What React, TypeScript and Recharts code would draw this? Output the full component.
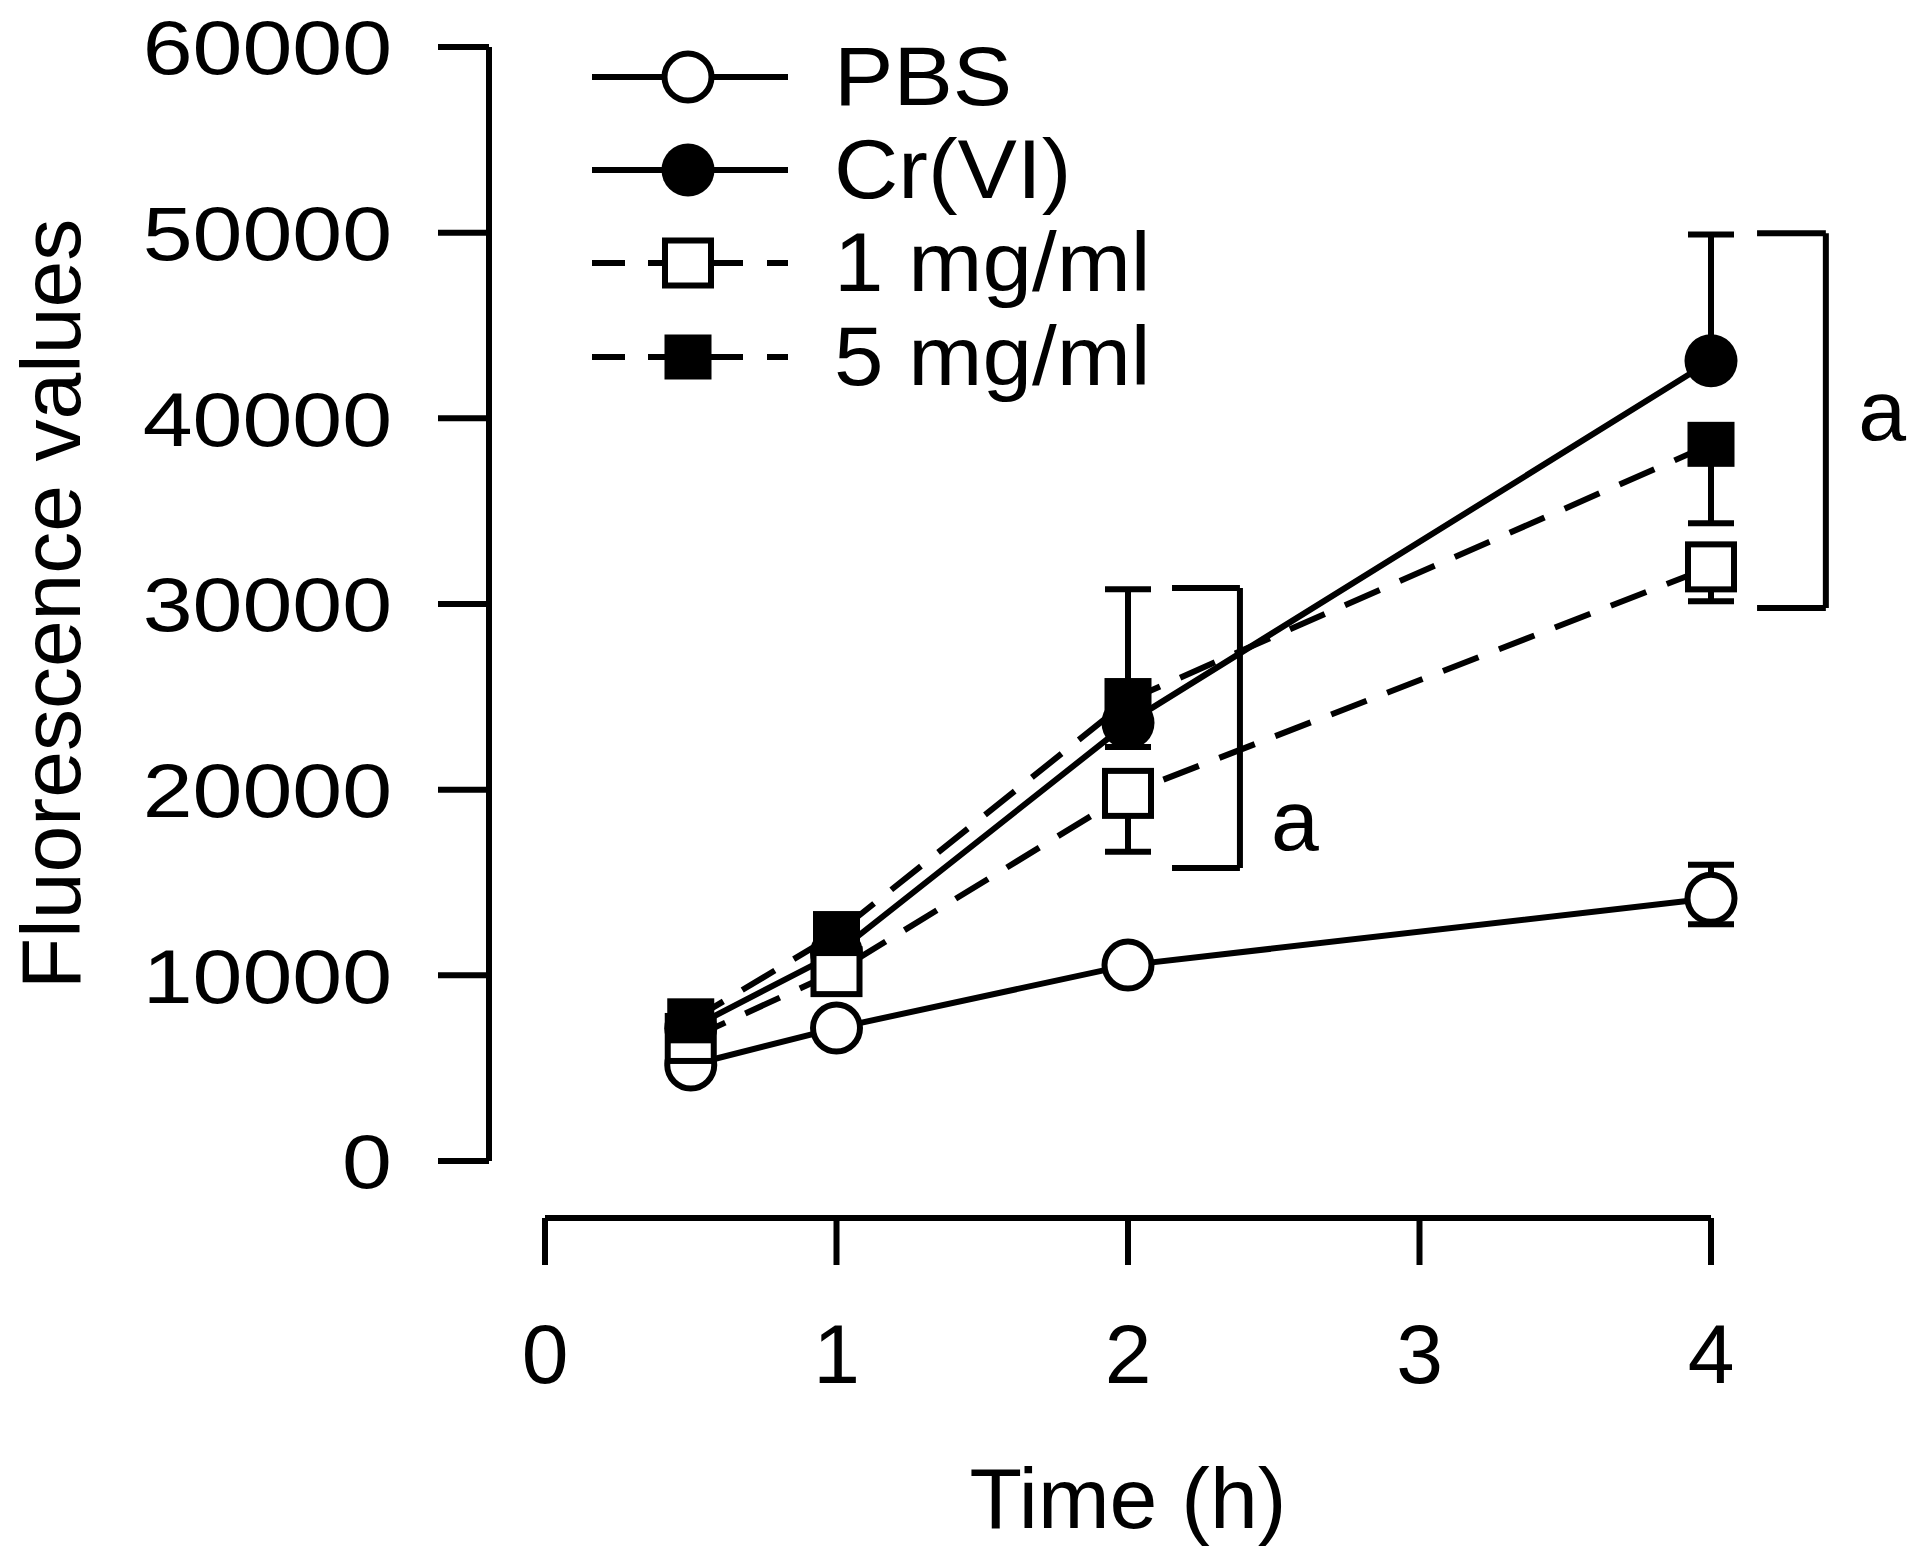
import { LineChart, Line, XAxis, YAxis, ErrorBar, Legend, Label, ReferenceLine, ReferenceDot } from 'recharts'

const FONT = '"Liberation Sans", Arial, Helvetica, sans-serif'

// time points (h)
const times = [0.5, 1, 2, 4]

// mean fluorescence values
const pbs = [5170, 7160, 10550, 14150]
const crVI = [7150, 11200, 23600, 43100]
const mg1 = [6600, 10200, 19800, 32000]
const mg5 = [7550, 12250, 24800, 38600]

// error bars as [below, above]; null = not drawn
const pbsErr = [null, null, null, [1400, 1800]]
const crVIErr = [null, null, [1300, 0], [0, 6800]]
const mg1Err = [null, null, [3150, 0], [1850, 0]]
const mg5Err = [null, null, [0, 6000], [4250, 0]]

const xTicks = [0, 1, 2, 3, 4]
const yTicks = [0, 10000, 20000, 30000, 40000, 50000, 60000]

// significance brackets (data units)
const brackets = [
  { x: 2.384, armX: 2.151, low: 15780, high: 30860, labelX: 2.573, labelY: 18400, text: 'a' },
  { x: 4.394, armX: 4.158, low: 29780, high: 49970, labelX: 4.587, labelY: 40500, text: 'a' },
]

const data = times.map((t, i) => ({
  time: t,
  pbs: pbs[i],
  crVI: crVI[i],
  mg1: mg1[i],
  mg5: mg5[i],
  pbsErr: pbsErr[i],
  crVIErr: crVIErr[i],
  mg1Err: mg1Err[i],
  mg5Err: mg5Err[i],
}))

const SW = 6
const AXW = 6
const DASH = '38 22'

type Marker = 'openCircle' | 'filledCircle' | 'openSquare' | 'filledSquare'

function MarkerShape({ kind, cx, cy }: { kind: Marker; cx: number; cy: number }) {
  if (kind === 'openCircle') return <circle cx={cx} cy={cy} r={23.5} fill="#fff" stroke="#000" strokeWidth={SW} />
  if (kind === 'filledCircle') return <circle cx={cx} cy={cy} r={26.5} fill="#000" />
  if (kind === 'openSquare')
    return <rect x={cx - 23} y={cy - 22.5} width={46} height={45} fill="#fff" stroke="#000" strokeWidth={SW} />
  return <rect x={cx - 23.5} y={cy - 22.5} width={47} height={45} fill="#000" />
}

const dotFor = (kind: Marker) => (props: any) => {
  const { cx, cy, index } = props
  if (cx == null || cy == null) return <g key={`d-${index}`} />
  return (
    <g key={`d-${kind}-${index}`}>
      <MarkerShape kind={kind} cx={cx} cy={cy} />
    </g>
  )
}

const series: { key: string; err: string; name: string; marker: Marker; dashed: boolean }[] = [
  { key: 'pbs', err: 'pbsErr', name: 'PBS', marker: 'openCircle', dashed: false },
  { key: 'crVI', err: 'crVIErr', name: 'Cr(VI)', marker: 'filledCircle', dashed: false },
  { key: 'mg1', err: 'mg1Err', name: '1 mg/ml', marker: 'openSquare', dashed: true },
  { key: 'mg5', err: 'mg5Err', name: '5 mg/ml', marker: 'filledSquare', dashed: true },
]

function YTick({ x, y, payload }: any) {
  return (
    <text
      transform={`translate(${x},${y}) scale(1.18,1)`}
      textAnchor="end"
      dy="0.36em"
      fontSize={76}
      fontFamily={FONT}
      fill="#000"
    >
      {payload.value}
    </text>
  )
}

function XTick({ x, y, payload }: any) {
  return (
    <text x={x} y={y} textAnchor="middle" dy="0.72em" fontSize={84} fontFamily={FONT} fill="#000">
      {payload.value}
    </text>
  )
}

function YTitle({ viewBox }: any) {
  const cx = viewBox.x + 72
  const cy = viewBox.y + viewBox.height / 2
  return (
    <text
      x={cx}
      y={cy}
      transform={`rotate(-90, ${cx}, ${cy})`}
      textAnchor="middle"
      fontSize={84}
      fontFamily={FONT}
      fill="#000"
    >
      Fluorescence values
    </text>
  )
}

function XTitle({ viewBox }: any) {
  return (
    <text
      x={viewBox.x + viewBox.width / 2}
      y={viewBox.y + 310}
      textAnchor="middle"
      fontSize={86}
      fontFamily={FONT}
      fill="#000"
    >
      Time (h)
    </text>
  )
}

function LegendBox() {
  const rows = [49, 142, 235, 329]
  const solid = [[24, 220]]
  const dashed = [[24, 57], [80, 175], [199, 220]]
  return (
    <svg width={760} height={380}>
      {series.map((s, i) => (
        <g key={s.key}>
          {(s.dashed ? dashed : solid).map(([a, b], j) => (
            <line key={j} x1={a} x2={b} y1={rows[i]} y2={rows[i]} stroke="#000" strokeWidth={SW} />
          ))}
          <MarkerShape kind={s.marker} cx={120} cy={rows[i]} />
          <text
            transform={`translate(266,${rows[i] + 28}) scale(1.06,1)`}
            fontSize={84}
            fontFamily={FONT}
            fill="#000"
          >
            {s.name}
          </text>
        </g>
      ))}
    </svg>
  )
}

export default function App() {
  return (
    <div style={{ background: '#fff' }}>
      <LineChart width={1904} height={1546} data={data} margin={{ top: 39, right: 201, bottom: 0, left: 0 }}>
        <XAxis xAxisId={0} type="number" dataKey="time" domain={[0, 4]} height={57} axisLine={false} tickLine={false} tick={false} />
        <XAxis
          xAxisId="shown"
          type="number"
          dataKey="time"
          domain={[0, 4]}
          ticks={xTicks}
          height={336}
          axisLine={{ stroke: '#000', strokeWidth: AXW }}
          tickLine={{ stroke: '#000', strokeWidth: AXW }}
          tickSize={47}
          tickMargin={58}
          tick={<XTick />}
        >
          <Label content={<XTitle />} />
        </XAxis>
        <YAxis yAxisId={0} type="number" dataKey="crVI" domain={[0, 60000]} width={56} axisLine={false} tickLine={false} tick={false} />
        <YAxis
          yAxisId="shown"
          type="number"
          dataKey="crVI"
          domain={[0, 60000]}
          allowDataOverflow
          ticks={yTicks}
          interval={0}
          width={481}
          axisLine={{ stroke: '#000', strokeWidth: AXW }}
          tickLine={{ stroke: '#000', strokeWidth: AXW }}
          tickSize={51}
          tickMargin={46}
          tick={<YTick />}
        >
          <Label content={<YTitle />} />
        </YAxis>
        <Legend
          layout="vertical"
          align="center"
          verticalAlign="middle"
          content={<LegendBox />}
          wrapperStyle={{ left: 560, top: 20, width: 760, height: 380 }}
        />
        {brackets.map((b, i) => (
          <ReferenceLine
            key={`bv-${i}`}
            segment={[{ x: b.x, y: b.low }, { x: b.x, y: b.high }]}
            stroke="#000"
            strokeWidth={SW}
            ifOverflow="visible"
          />
        ))}
        {brackets.map((b, i) => (
          <ReferenceLine
            key={`bt-${i}`}
            segment={[{ x: b.armX, y: b.high }, { x: b.x, y: b.high }]}
            stroke="#000"
            strokeWidth={SW}
            ifOverflow="visible"
          />
        ))}
        {brackets.map((b, i) => (
          <ReferenceLine
            key={`bb-${i}`}
            segment={[{ x: b.armX, y: b.low }, { x: b.x, y: b.low }]}
            stroke="#000"
            strokeWidth={SW}
            ifOverflow="visible"
          />
        ))}
        {brackets.map((b, i) => (
          <ReferenceDot
            key={`bl-${i}`}
            x={b.labelX}
            y={b.labelY}
            r={0}
            fill="none"
            stroke="none"
            ifOverflow="visible"
            label={{ value: b.text, position: 'center', fontSize: 86, fontFamily: FONT, fill: '#000' }}
          />
        ))}
        {series.map((s) => (
          <Line
            key={s.key}
            type="linear"
            dataKey={s.key}
            name={s.name}
            stroke="#000"
            strokeWidth={SW}
            strokeDasharray={s.dashed ? DASH : undefined}
            dot={dotFor(s.marker)}
            activeDot={false}
            isAnimationActive={false}
          >
            <ErrorBar dataKey={s.err} direction="y" width={23} stroke="#000" strokeWidth={SW} isAnimationActive={false} />
          </Line>
        ))}
      </LineChart>
    </div>
  )
}
